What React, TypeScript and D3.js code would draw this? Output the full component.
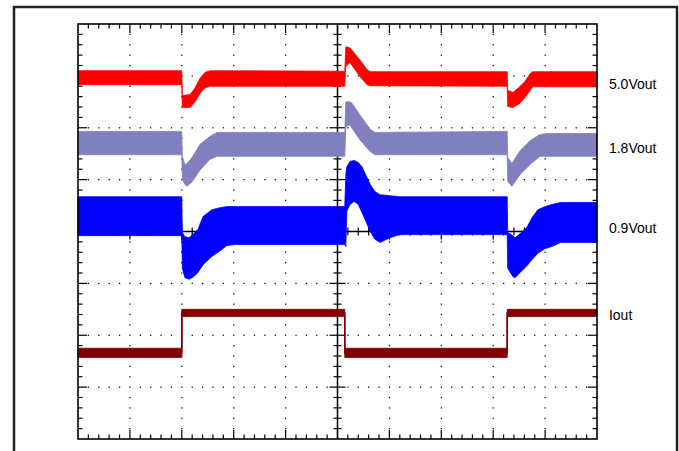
import React from 'react';
import * as d3 from 'd3';

const W = 679;
const H = 451;

// Time in tenths of a screen division (0..100), amplitude in tenths of a division (-40..40)
const redT  = [0, 20.0, 20.1, 21.6, 22.5, 23.5, 24.5, 25.5, 51.4, 51.6, 52.4, 53.8, 54.3, 55.7, 56.3, 82.7, 82.8, 83.8, 85.0, 86.1, 87.1, 87.6, 100];
const redHi = [31.0, 31.0, 26.2, 26.4, 27.6, 29.5, 30.7, 31.0, 30.9, 35.6, 35.4, 33.7, 33.1, 31.2, 30.8, 30.8, 27.2, 26.8, 27.8, 28.9, 30.4, 30.8, 30.8];
const redLo = [28.3, 28.3, 23.9, 23.9, 24.9, 26.6, 27.7, 28.0, 28.0, 31.8, 32.6, 30.6, 29.9, 28.3, 28.1, 28.0, 24.1, 23.9, 24.6, 25.8, 27.2, 27.9, 27.9];

const lavT  = [0, 20.0, 20.1, 20.6, 21.0, 22.0, 23.5, 25.4, 26.8, 51.4, 51.6, 52.4, 52.8, 54.3, 56.3, 57.2, 82.7, 82.8, 83.6, 85.2, 87.1, 89.0, 90.5, 100];
const lavHi = [19.3, 19.3, 14.5, 12.9, 13.1, 14.3, 16.8, 18.3, 19.1, 19.1, 25.0, 25.0, 24.7, 22.5, 19.7, 19.1, 19.3, 14.3, 13.1, 15.6, 17.5, 18.7, 18.9, 18.9];
const lavLo = [14.8, 14.8, 10.0, 9.1, 8.7, 9.6, 11.8, 13.9, 14.5, 14.5, 20.2, 20.6, 19.9, 17.7, 15.4, 14.8, 14.8, 9.6, 8.7, 11.0, 12.9, 14.5, 14.5, 14.5];

const bluT  = [0, 20.0, 20.1, 20.6, 21.4, 22.3, 23.1, 24.1, 25.8, 27.4, 28.7, 30.3, 51.4, 51.6, 51.8, 52.4, 53.2, 54.0, 54.7, 55.5, 56.3, 57.2, 58.2, 60.1, 62.0, 82.7, 82.8, 83.8, 84.2, 85.2, 86.5, 87.5, 88.6, 90.0, 91.3, 93.0, 100];
const bluHi = [6.7, 6.7, -0.2, -1.0, -1.2, -0.4, 0.4, 2.9, 4.2, 4.6, 4.8, 4.8, 4.8, 11.0, 12.5, 13.5, 13.7, 13.3, 12.5, 10.8, 9.1, 7.7, 7.1, 6.9, 6.7, 6.7, -0.2, -0.8, -1.2, -0.4, 0.8, 2.7, 4.2, 4.8, 5.2, 5.6, 5.6];
const bluLo = [-0.8, -0.8, -7.1, -8.9, -9.2, -8.7, -7.9, -6.4, -4.8, -3.7, -2.7, -2.5, -2.5, -2.9, 3.9, 5.2, 5.8, 5.2, 3.7, 1.9, 0.0, -1.5, -2.1, -1.2, -0.6, -0.6, -7.1, -8.7, -8.9, -7.9, -6.6, -5.4, -4.2, -3.3, -2.9, -2.1, -2.1];

const ioT  = [0, 20.0, 51.4, 82.7, 100];
const ioHi = [-22.5, -15.0, -22.5, -15.0, -15.0];
const ioLo = [-24.3, -16.4, -24.3, -16.4, -16.4];

const labels = ['5.0Vout', '1.8Vout', '0.9Vout', 'Iout'];
const labelY = [27.4, 15.2, -0.2, -17.0];
const labelX = 102.3;

const traces = [
  { t: redT, hi: redHi, lo: redLo, color: '#ff0000', step: false },
  { t: lavT, hi: lavHi, lo: lavLo, color: '#8080c0', step: false },
  { t: bluT, hi: bluHi, lo: bluLo, color: '#0000ff', step: false },
  { t: ioT, hi: ioHi, lo: ioLo, color: '#800000', step: true },
];

export default function App() {
  const L = 78, R = 597, T = 24, B = 439;
  const x = d3.scaleLinear().domain([0, 100]).range([L, R]);
  const y = d3.scaleLinear().domain([-40, 40]).range([B, T]);

  const minor = d3.range(2, 100, 2);
  const minorY = d3.range(-38, 40, 2);
  const majorX = d3.range(10, 100, 10).filter((v) => v !== 50);
  const majorY = d3.range(-30, 40, 10).filter((v) => v !== 0);

  const dots: JSX.Element[] = [];
  majorX.forEach((gx) =>
    minorY.forEach((gy) =>
      dots.push(<rect key={`v${gx}_${gy}`} x={x(gx) - 0.6} y={y(gy) - 0.6} width={1.3} height={1.3} fill="#111" />)
    )
  );
  majorY.forEach((gy) =>
    minor.forEach((gx) => {
      if (gx % 10 === 0) return;
      dots.push(<rect key={`h${gx}_${gy}`} x={x(gx) - 0.6} y={y(gy) - 0.6} width={1.3} height={1.3} fill="#111" />);
    })
  );

  const ticks: JSX.Element[] = [];
  minor.forEach((v) => {
    const len = v % 10 === 0 ? 9 : 4.5;
    ticks.push(<line key={`tt${v}`} x1={x(v)} x2={x(v)} y1={T} y2={T + len} />);
    ticks.push(<line key={`tb${v}`} x1={x(v)} x2={x(v)} y1={B} y2={B - len} />);
    const c = v % 10 === 0 ? 8 : 4;
    ticks.push(<line key={`tc${v}`} x1={x(v)} x2={x(v)} y1={y(0) - c} y2={y(0) + c} />);
  });
  minorY.forEach((v) => {
    const len = v % 10 === 0 ? 9 : 4.5;
    ticks.push(<line key={`tl${v}`} x1={L} x2={L + len} y1={y(v)} y2={y(v)} />);
    ticks.push(<line key={`tr${v}`} x1={R} x2={R - len} y1={y(v)} y2={y(v)} />);
    const c = v % 10 === 0 ? 8 : 4;
    ticks.push(<line key={`tcv${v}`} x1={x(50) - c} x2={x(50) + c} y1={y(v)} y2={y(v)} />);
  });

  return (
    <svg width={W} height={H} style={{ position: 'absolute', left: 0, top: 0, background: '#fff' }}>
      <rect x={0} y={0} width={W} height={H} fill="#fff" />
      <rect x={14} y={7} width={663} height={470} fill="none" stroke="#222" strokeWidth={2.5} />
      <g>{dots}</g>
      <g stroke="#000" strokeWidth={1.2}>
        {ticks}
        <line x1={x(50)} x2={x(50)} y1={T} y2={B} strokeWidth={1.5} />
        <line x1={L} x2={R} y1={y(0)} y2={y(0)} strokeWidth={1.5} />
      </g>
      {traces.map((tr, i) => {
        const idx = d3.range(tr.t.length);
        const area = d3
          .area<number>()
          .x((k) => x(tr.t[k]))
          .y0((k) => y(tr.lo[k]))
          .y1((k) => y(tr.hi[k]))
          .curve(tr.step ? d3.curveStepAfter : d3.curveLinear);
        const mid = d3
          .line<number>()
          .x((k) => x(tr.t[k]))
          .y((k) => y((tr.hi[k] + tr.lo[k]) / 2))
          .curve(d3.curveStepAfter);
        return (
          <g key={i}>
            <path d={area(idx) || ''} fill={tr.color} stroke={tr.color} strokeWidth={0.8} strokeLinejoin="round" />
            {tr.step && <path d={mid(idx) || ''} fill="none" stroke={tr.color} strokeWidth={1.6} />}
          </g>
        );
      })}
      <rect x={L} y={T} width={R - L} height={B - T} fill="none" stroke="#000" strokeWidth={1.6} />
      <g fontFamily="'Liberation Sans', Arial, sans-serif" fontSize={14} fill="#000">
        {labels.map((s, i) => (
          <text key={s} x={x(labelX)} y={y(labelY[i])}>
            {s}
          </text>
        ))}
      </g>
    </svg>
  );
}
